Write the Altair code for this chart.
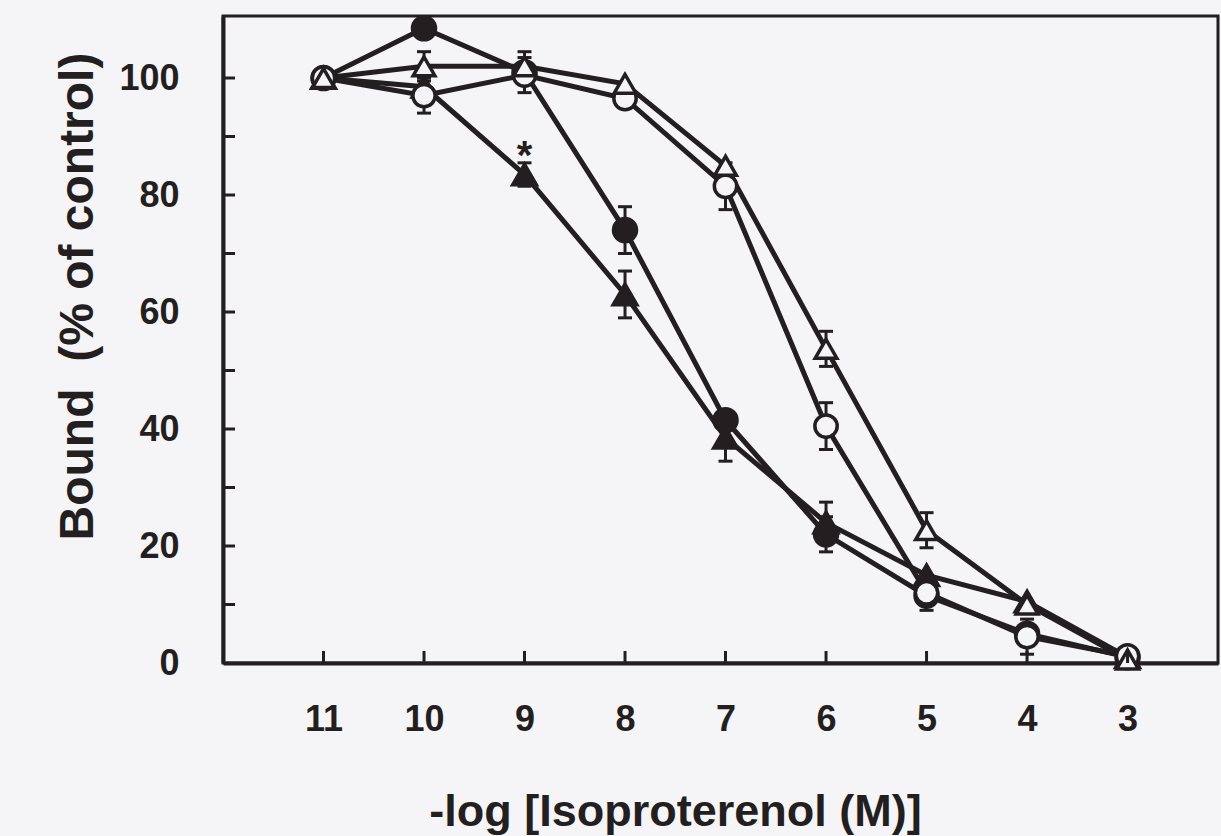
import altair as alt
import pandas as pd

# ---- data ----
log_conc = [11, 10, 9, 8, 7, 6, 5, 4, 3]

filled_circle = [100, 108.5, 101, 74, 41.5, 22, 11.5, 5, 1]
filled_circle_err = [0, 0, 0, 4, 0, 3, 0, 0, 0]

open_circle = [100, 97, 100.5, 96.5, 81.5, 40.5, 12, 4.5, 1.2]
open_circle_err = [0, 3, 3, 0, 4, 4, 3, 3, 0]

filled_triangle = [100, 98.5, 83.5, 63, 38.5, 24, 15, 10.5, 1]
filled_triangle_err = [0, 0, 2, 4, 4, 3.5, 0, 0, 0]

open_triangle = [100, 102, 102, 99, 85, 53.7, 22.7, 10, 0.6]
open_triangle_err = [0, 2.5, 2.5, 0, 0, 3, 3, 0, 0]

series_names = ["filled triangle", "filled circle", "open circle", "open triangle"]
series_shapes = ["triangle-up", "circle", "circle", "triangle-up"]
series_vals = [filled_triangle, filled_circle, open_circle, open_triangle]
series_errs = [filled_triangle_err, filled_circle_err, open_circle_err, open_triangle_err]

y_ticks = [10, 20, 30, 40, 50, 60, 70, 80, 90, 100]
y_labels = [0, 20, 40, 60, 80, 100]
x_ticks = [11, 10, 9, 8, 7, 6, 5, 4, 3]

star_x = [9]
star_y = [86.5]

INK = "#231f20"
BG = "#f5f5f7"
FONT = "Liberation Sans"

rows = []
for order, (name, vals, errs) in enumerate(zip(series_names, series_vals, series_errs)):
    for x, v, e in zip(log_conc, vals, errs):
        rows.append({"x": x, "y": v, "err": e, "series": name, "order": order})
df = pd.DataFrame(rows)

xscale = alt.Scale(domain=[2.1, 12], reverse=True, nice=False, zero=False)
yscale = alt.Scale(domain=[0, 110.6], nice=False, zero=False)

base = alt.Chart(df)

x_enc = alt.X(
    "x:Q", scale=xscale,
    axis=alt.Axis(
        values=x_ticks, format="d", ticks=False, grid=False, labelPadding=39,
        labelFontSize=36, labelFont=FONT, labelFontWeight="bold", labelColor=INK,
        domainColor=INK, domainWidth=4,
        title="-log [Isoproterenol (M)]", titleFont=FONT, titleFontSize=45,
        titleFontWeight="bold", titleColor=INK,
        titleX=452, titleY=162, titleAlign="center", titleBaseline="alphabetic",
    ),
)
y_enc = alt.Y(
    "y:Q", scale=yscale,
    axis=alt.Axis(
        values=y_labels, format="d", ticks=False, grid=False, labelPadding=44,
        labelFontSize=36, labelFont=FONT, labelFontWeight="bold", labelColor=INK,
        domainColor=INK, domainWidth=4,
        title="Bound\u00a0 (% of control)", titleFont=FONT, titleFontSize=48,
        titleFontWeight="bold", titleColor=INK,
        titleX=-131, titleY=280, titleAlign="center", titleBaseline="alphabetic",
        titleAngle=270,
    ),
)

lines = base.mark_line(color=INK, strokeWidth=5).encode(
    x=x_enc, y=y_enc, detail="series:N"
)

err_df = base.transform_filter("datum.err > 0").transform_calculate(
    lo="datum.y - datum.err", hi="datum.y + datum.err"
)
err_rule = err_df.mark_rule(color=INK, strokeWidth=3).encode(
    x="x:Q", y="lo:Q", y2="hi:Q"
)
cap_lo = err_df.mark_tick(color=INK, orient="horizontal", size=14, thickness=3, opacity=1).encode(
    x="x:Q", y="lo:Q"
)
cap_hi = err_df.mark_tick(color=INK, orient="horizontal", size=14, thickness=3, opacity=1).encode(
    x="x:Q", y="hi:Q"
)

points = base.mark_point(filled=True, stroke=INK, strokeWidth=3.5, opacity=1).encode(
    x="x:Q",
    y="y:Q",
    shape=alt.Shape("series:N", scale=alt.Scale(domain=series_names, range=series_shapes), legend=None),
    fill=alt.Fill("series:N", scale=alt.Scale(domain=series_names, range=[INK, INK, BG, BG]), legend=None),
    size=alt.Size("series:N", scale=alt.Scale(domain=series_names, range=[560, 470, 470, 560]), legend=None),
    order=alt.Order("order:Q"),
)

ytick_df = pd.DataFrame({"yt": y_ticks})
yticks = alt.Chart(ytick_df).mark_rule(color=INK, strokeWidth=3).encode(
    y="yt:Q", x=alt.value(0), x2=alt.value(12)
)
xtick_df = pd.DataFrame({"xt": x_ticks})
xticks = alt.Chart(xtick_df).mark_rule(color=INK, strokeWidth=3).encode(
    x="xt:Q", y=alt.value(647), y2=alt.value(635)
)

star_df = pd.DataFrame({"x": star_x, "y": star_y, "t": ["*"]})
star = alt.Chart(star_df).mark_text(
    font=FONT, fontSize=40, fontWeight="bold", color=INK, baseline="middle", align="center"
).encode(x="x:Q", y="y:Q", text="t:N")

chart = alt.layer(lines, err_rule, cap_lo, cap_hi, points, yticks, xticks, star).properties(
    width=995, height=647,
    padding={"left": 223, "top": 16, "right": 3, "bottom": 173},
    autosize="none",
    background=BG,
).configure_view(stroke=INK, strokeWidth=3, fill=BG)

chart.save("out.html", embed_options={"renderer": "svg", "actions": False})
